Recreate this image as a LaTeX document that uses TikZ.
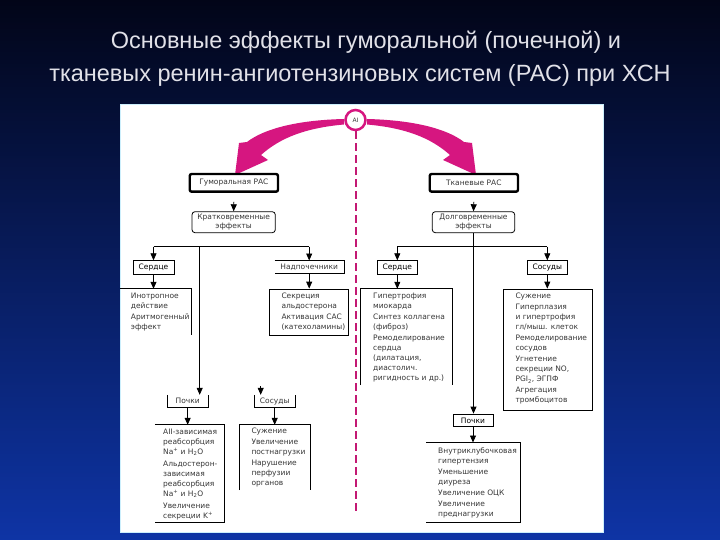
\documentclass[tikz,border=0pt]{standalone}
\usepackage{fontspec}
\setmainfont{Liberation Sans}
\newfontfamily\diafont{DejaVu Sans}
\usetikzlibrary{arrows.meta}
\definecolor{mag}{RGB}{214,22,128}
\definecolor{dmag}{RGB}{195,25,115}
\definecolor{ink}{RGB}{55,55,55}
\definecolor{bgtop}{RGB}{2,5,24}
\definecolor{bgbot}{RGB}{14,52,165}
\definecolor{titlec}{RGB}{225,225,232}
\tikzset{
  fr/.style 2 args={minimum width=#1pt, minimum height=#2pt, inner sep=0pt, font=\diafont\fontsize{7.5}{9}\selectfont, text=ink},
  ln/.style={line width=0.8pt, black},
  arr/.style={ln, -{Triangle[width=6pt,length=7pt]}},
  txt/.style={anchor=north west, inner sep=0pt, align=left, text=ink, font=\diafont\fontsize{7.5}{10}\selectfont},
  ttl/.style={text=titlec, font=\fontsize{23.5}{26}\selectfont, inner sep=0pt},
  magarrow/.style={fill=mag}
}
\begin{document}
\begin{tikzpicture}[x=1pt,y=-1pt]
\useasboundingbox (0,0) rectangle (720,540);
\shade[top color=bgtop, bottom color=bgbot] (0,0) rectangle (720,540);
\node[ttl] (t1) at (366,42) {Основные эффекты гуморальной (почечной) и};
\node[ttl] (t2) at (360,75) {тканевых ренин-ангиотензиновых систем (РАС) при ХСН};
\fill[white] (120,105) rectangle (603,532);
\draw[cyan!20, line width=1pt] (120,105) rectangle (603,532);

% top circle and dashed divider
\node[circle, draw=mag, line width=2.5pt, minimum size=20pt, inner sep=0pt, font=\diafont\fontsize{6}{7}\selectfont, text=ink] (ai) at (355.5,120) {AI};
\coordinate (dashend) at (355.5,513);
\draw[dmag, line width=2pt, dash pattern=on 8pt off 4pt] (ai.south) -- (dashend);

% magenta arrows
\fill[magarrow] (344,119) .. controls (300,120) and (265,128) .. (247,142) -- (239,143) -- (235,175) -- (268,160) -- (261,155) .. controls (280,138) and (305,128) .. (344,124.5) -- cycle;
\begin{scope}[xshift=711pt, xscale=-1]
\fill[magarrow] (344,119) .. controls (300,120) and (265,128) .. (247,142) -- (239,143) -- (235,175) -- (268,160) -- (261,155) .. controls (280,138) and (305,128) .. (344,124.5) -- cycle;
\end{scope}

% top boxes
\node[fr={88.3}{17.7}, draw, line width=2.4pt, rounded corners=2pt] (hum) at (233.85,182.85) {Гуморальная РАС};
\node[fr={88.3}{17.7}, draw, line width=2.4pt, rounded corners=2pt] (tis) at (473.85,182.85) {Тканевые РАС};
\node[fr={83.3}{21}, draw, line width=0.8pt, rounded corners=3pt, align=center] (short) at (233.65,222.2) {Кратковременные\\эффекты};
\node[fr={82.4}{21}, draw, line width=0.8pt, rounded corners=3pt, align=center] (long) at (473.5,222.2) {Долговременные\\эффекты};
\draw[arr] ([yshift=-9pt]hum.south) -- (short.north);
\draw[arr] ([yshift=-9pt]tis.south) -- (long.north);

% ---------- left tree ----------
\coordinate (ljl) at (153.5,246.7);
\coordinate (lj) at (199.7,246.7);
\coordinate (ljr) at (309.2,246.7);
\node[fr={41}{13.3}, draw, ln] (serdL) at (153.5,267.35) {Сердце};
\node[fr={69}{12.6}] (nadL) at (309.2,267) {Надпочечники};
\draw[ln] (nadL.north west) -- (nadL.north east) -- (nadL.south east) -- (nadL.south west);
\node[fr={71.3}{46}] (inoL) at (155.65,312) {};
\draw[ln] (inoL.north west) -- (inoL.north east) -- (inoL.south east);
\node[txt] (inoLt) at (130.7,293) {Инотропное\\действие\\[1pt]Аритмогенный\\эффект};
\node[fr={78.3}{46}, draw, ln] (secL) at (308.85,312) {};
\node[txt] (secLt) at (281.3,293) {Секреция\\альдостерона\\[1pt]Активация САС\\(катехоламины)};
\node[fr={40.7}{12.3}] (pochL) at (187.65,401.15) {Почки};
\draw[ln] (pochL.north west) -- (pochL.south west) -- (pochL.south east) -- (pochL.north east);
\node[fr={40}{12.3}] (sosL) at (274.7,401.15) {Сосуды};
\draw[ln] (sosL.north west) -- (sosL.south west) -- (sosL.south east) -- (sosL.north east);
\node[fr={69}{96.7}] (reabL) at (189.5,473.35) {};
\draw[ln] (reabL.north west) -- (reabL.north east) -- (reabL.south east) -- (reabL.south west);
\node[txt] (reabLt) at (163,428.5) {AII-зависимая\\реабсорбция\\Na\textsuperscript{+} и H\textsubscript{2}O\\[2pt]Альдостерон-\\зависимая\\реабсорбция\\Na\textsuperscript{+} и H\textsubscript{2}O\\[2pt]Увеличение\\секреции K\textsuperscript{+}};
\node[fr={70}{65}] (vasL) at (274.7,457.5) {};
\draw[ln] (vasL.south west) -- (vasL.north west) -- (vasL.north east) -- (vasL.south east);
\node[txt] (vasLt) at (251.3,427.5) {Сужение\\[1pt]Увеличение\\постнагрузки\\[1pt]Нарушение\\перфузии\\органов};
\coordinate (dang) at (260.7,386);

\draw[ln] (ljl) -- (ljr);
\draw[arr] (ljl) -- (serdL.north);
\draw[arr] (ljr) -- (nadL.north);
\draw[arr] (lj) -- (lj |- pochL.north);
\draw[arr] (serdL.south) -- (serdL.south |- inoL.north);
\draw[arr] (nadL.south) -- (nadL.south |- secL.north);
\draw[arr] (pochL.south) -- (pochL.south |- reabL.north);
\draw[arr] (sosL.south) -- (sosL.south |- vasL.north);
\draw[arr] (dang) -- (dang |- sosL.north);

% ---------- right tree ----------
\coordinate (rjl) at (397.3,246.7);
\coordinate (rjr) at (547.3,246.7);
\node[fr={40}{13.3}, draw, ln] (serdR) at (397.3,267.35) {Сердце};
\node[fr={40}{13.3}, draw, ln] (sosR) at (547.3,267.35) {Сосуды};
\node[fr={92}{96}] (hyperR) at (406.3,337) {};
\draw[ln] (hyperR.south west) -- (hyperR.north west) -- (hyperR.north east) -- (hyperR.south east);
\node[txt] (hyperRt) at (373,293) {Гипертрофия\\миокарда\\[1pt]Синтез коллагена\\(фиброз)\\[1pt]Ремоделирование\\сердца\\(дилатация,\\диастолич.\\ригидность и др.)};
\node[fr={88.3}{121}, draw, ln] (vasR) at (547.85,349.5) {};
\node[txt] (vasRt) at (515.3,293) {Сужение\\[1pt]Гиперплазия\\и гипертрофия\\гл/мыш. клеток\\[1pt]Ремоделирование\\сосудов\\[1pt]Угнетение\\секреции NO,\\PGI\textsubscript{2}, ЭГПФ\\[1pt]Агрегация\\тромбоцитов};
\node[fr={40}{12.7}, draw, ln] (pochR) at (473,420.35) {Почки};
\node[fr={93.4}{79}] (renR) at (473,482.2) {};
\draw[ln] (renR.north west) -- (renR.north east) -- (renR.south east) -- (renR.south west);
\node[txt] (renRt) at (438,447.5) {Внутриклубочковая\\гипертензия\\[1pt]Уменьшение\\диуреза\\[1pt]Увеличение ОЦК\\[1pt]Увеличение\\преднагрузки};

\draw[ln] (rjl) -- (rjr);
\draw[arr] (rjl) -- (serdR.north);
\draw[arr] (rjr) -- (sosR.north);
\draw[arr] (long.south) -- (long.south |- pochR.north);
\draw[arr] (serdR.south) -- (serdR.south |- hyperR.north);
\draw[arr] (sosR.south) -- (sosR.south |- vasR.north);
\draw[arr] (pochR.south) -- (pochR.south |- renR.north);
\end{tikzpicture}
\end{document}
